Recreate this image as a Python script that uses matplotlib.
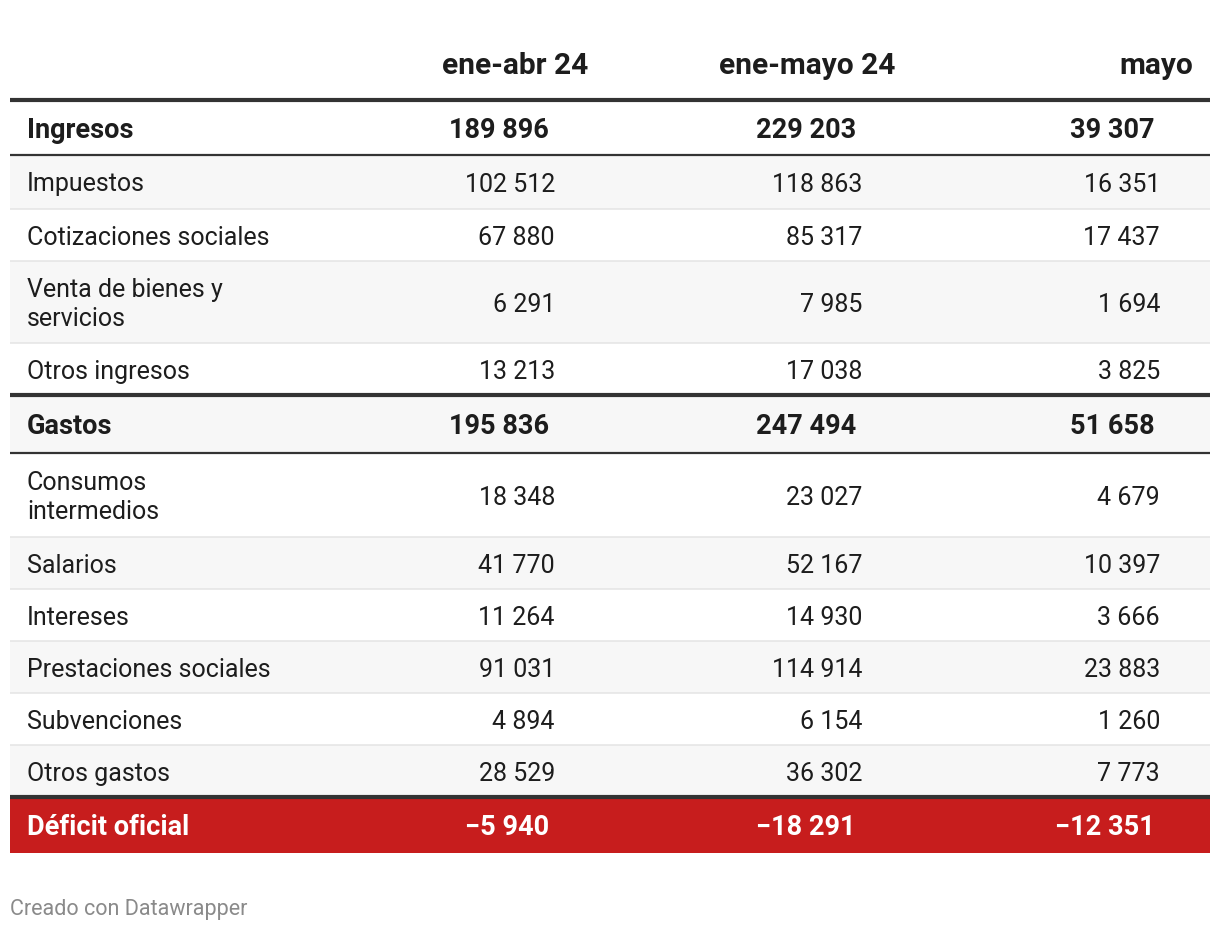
import matplotlib.pyplot as plt
from matplotlib.patches import Rectangle

plt.rcParams['font.family'] = ['Roboto', 'DejaVu Sans']

columns = ['ene-abr 24', 'ene-mayo 24', 'mayo']
labels = ['Ingresos', 'Impuestos', 'Cotizaciones sociales', 'Venta de bienes y\nservicios',
          'Otros ingresos', 'Gastos', 'Consumos\nintermedios', 'Salarios', 'Intereses',
          'Prestaciones sociales', 'Subvenciones', 'Otros gastos', 'Déficit oficial']
ene_abr = [189896, 102512, 67880, 6291, 13213, 195836, 18348, 41770, 11264, 91031, 4894, 28529, -5940]
ene_mayo = [229203, 118863, 85317, 7985, 17038, 247494, 23027, 52167, 14930, 114914, 6154, 36302, -18291]
mayo = [39307, 16351, 17437, 1694, 3825, 51658, 4679, 10397, 3666, 23883, 1260, 7773, -12351]
bold_rows = ['Ingresos', 'Gastos', 'Déficit oficial']


def fmt(v):
    s = f"{abs(v):,}".replace(',', ' ')
    return ('\u2212' if v < 0 else '') + s


fig = plt.figure(figsize=(12.2, 9.3), dpi=100)
ax = fig.add_axes([0, 0, 1, 1])
ax.set_xlim(0, 1220)
ax.set_ylim(930, 0)
ax.axis('off')

left, right = 10, 1210
text_col = '#1d1d1d'
red = '#c71d1d'

# cabecera
header_x = [588, 895, 1193]
for x, c in zip(header_x, columns):
    ax.text(x, 66, c, ha='right', va='center', fontsize=21.5, fontweight='bold', color=text_col)
ax.plot([left, right], [100, 100], color='#333333', lw=3, solid_capstyle='butt')

# filas
heights = [54, 54, 52, 82, 52, 58, 84, 52, 52, 52, 52, 52, 56]
dark_after = {0: 1.6, 4: 3, 5: 1.6, 11: 3}
val_x = [555, 862, 1160]
bold_x = [549, 856, 1155]

y = 101
for i, lab in enumerate(labels):
    h = heights[i]
    is_bold = lab in bold_rows
    if lab == 'Déficit oficial':
        bg = red
    elif i % 2 == 1:
        bg = '#f7f7f7'
    else:
        bg = 'white'
    ax.add_patch(Rectangle((left, y), right - left, h, facecolor=bg, edgecolor='none', zorder=0))
    cy = y + h / 2 + 2.5
    col = 'white' if lab == 'Déficit oficial' else text_col
    fw = 'bold' if is_bold else 'normal'
    fs = 19.5 if is_bold else 18
    ax.text(27, cy, lab, ha='left', va='center', fontsize=fs,
            fontweight=fw, color=col, linespacing=1.3)
    xs = bold_x if is_bold else val_x
    for x, vals in zip(xs, [ene_abr, ene_mayo, mayo]):
        ax.text(x, cy, fmt(vals[i]), ha='right', va='center', fontsize=fs,
                fontweight=fw, color=col)
    y += h
    if i in dark_after:
        ax.plot([left, right], [y, y], color='#333333', lw=dark_after[i], solid_capstyle='butt', zorder=3)
    elif i < len(labels) - 1:
        ax.plot([left, right], [y, y], color='#e6e6e6', lw=1.2, solid_capstyle='butt', zorder=2)

ax.text(10, 909, 'Creado con Datawrapper', ha='left', va='center', fontsize=15.5, color='#8a8a8a')

fig.savefig('out.png', dpi=100)
